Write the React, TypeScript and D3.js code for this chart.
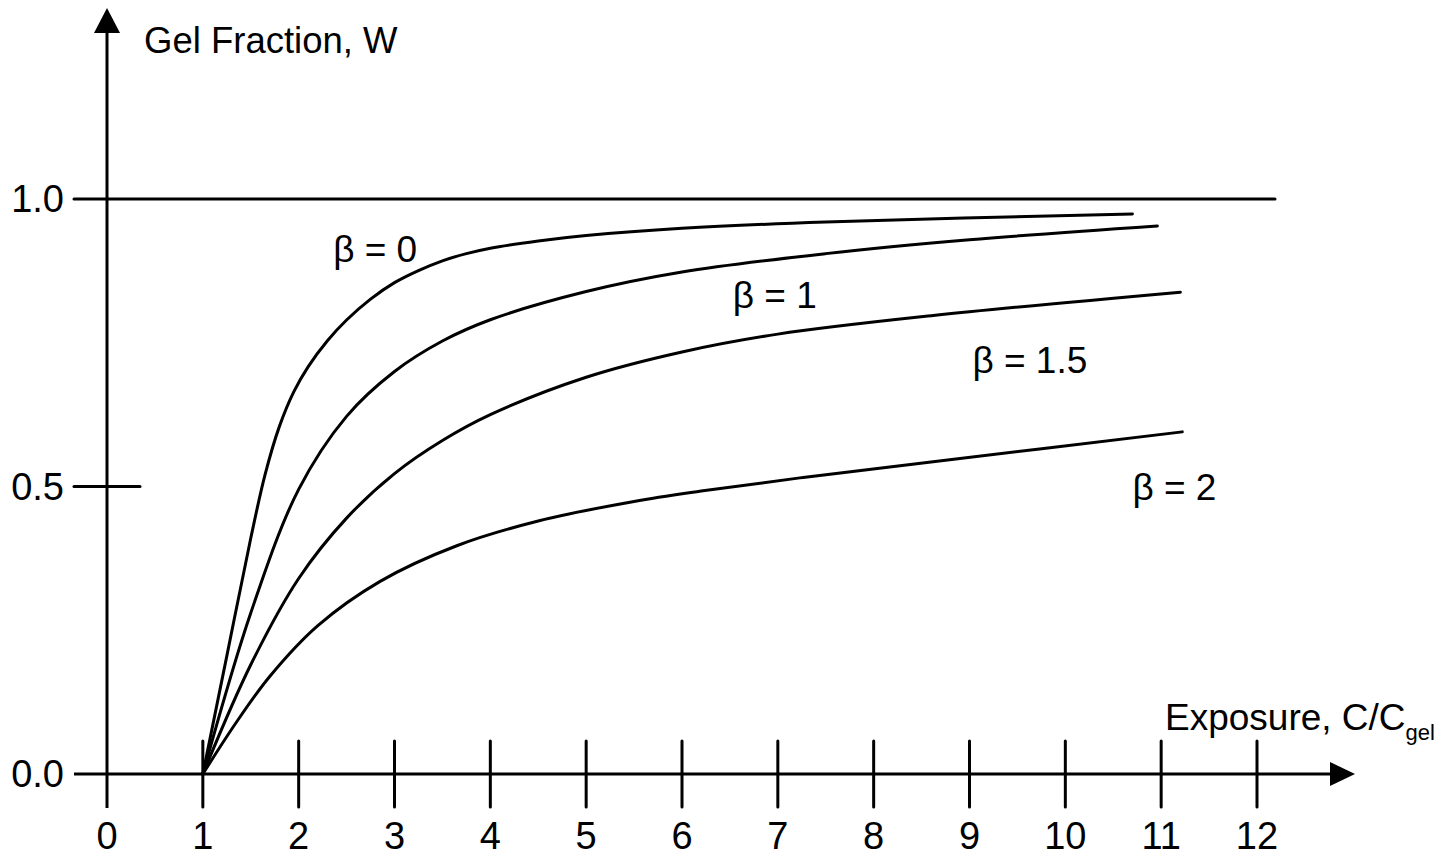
import React from "react";
import * as d3 from "d3";

// ---- Data ----
const xTicks = [0, 1, 2, 3, 4, 5, 6, 7, 8, 9, 10, 11, 12];
const yTickLabels = ["0.0", "0.5", "1.0"];
const yTickValues = [0, 0.5, 1.0];

const beta0X = [1, 1.25, 1.5, 1.65, 1.8, 1.95, 2.1, 2.3, 2.5, 2.75, 3.0, 3.25, 3.5, 3.75, 4.0, 4.5, 5.0, 6.0, 7.5, 10.7];
const beta0W = [0, 0.205, 0.41, 0.521, 0.605, 0.665, 0.7085, 0.7535, 0.7895, 0.8258, 0.8545, 0.8755, 0.8925, 0.905, 0.9145, 0.927, 0.9365, 0.949, 0.96, 0.974];

const beta1X = [1, 1.5, 2.0, 2.5, 3.0, 3.5, 4.0, 5.0, 6.0, 7.5, 9.0, 10.96];
const beta1W = [0, 0.28, 0.495, 0.622, 0.7, 0.753, 0.79, 0.839, 0.873, 0.905, 0.929, 0.953];

const beta15X = [1, 1.5, 2.0, 2.5, 3.0, 3.5, 4.0, 5.0, 6.0, 7.0, 8.6, 11.2];
const beta15W = [0, 0.19, 0.34, 0.445, 0.5225, 0.58, 0.625, 0.69, 0.734, 0.765, 0.797, 0.838];

const beta2X = [1, 1.35, 1.7, 2.2, 2.85, 3.65, 4.5, 5.5, 6.2, 7.23, 8.62, 11.22];
const beta2W = [0, 0.09, 0.17, 0.258, 0.335, 0.397, 0.44, 0.474, 0.492, 0.515, 0.543, 0.595];

const seriesLabels = ["β = 0", "β = 1", "β = 1.5", "β = 2"];
const labelAnchorX = [2.36, 6.53, 9.03, 10.7];
const labelAnchorW = [0.89, 0.81, 0.697, 0.477];

const xTitle = "Exposure, C/C";
const xTitleSub = "gel";
const yTitle = "Gel Fraction, W";

const W = 1450;
const H = 858;
const FONT = "'Liberation Sans', Arial, Helvetica, sans-serif";

export default function App() {
  const x = d3.scaleLinear().domain([0, 12]).range([107, 1257]);
  const y = d3.scaleLinear().domain([0, 1]).range([774, 199]);

  const line = d3
    .line<[number, number]>()
    .x((d) => x(d[0]))
    .y((d) => y(d[1]))
    .curve(d3.curveCatmullRom.alpha(0.5));

  const series = [
    d3.zip(beta0X, beta0W) as [number, number][],
    d3.zip(beta1X, beta1W) as [number, number][],
    d3.zip(beta15X, beta15W) as [number, number][],
    d3.zip(beta2X, beta2W) as [number, number][],
  ];

  const x0 = x(0);
  const y0 = y(0);
  const tickHalf = 33;
  const sw = 3;

  return (
    <svg
      width={W}
      height={H}
      viewBox={`0 0 ${W} ${H}`}
      style={{ position: "absolute", left: 0, top: 0, display: "block", background: "#fff" }}
      fontFamily={FONT}
    >
      <rect x={0} y={0} width={W} height={H} fill="#fff" />

      {/* curves */}
      {series.map((s, i) => (
        <path key={i} d={line(s) || ""} fill="none" stroke="#000" strokeWidth={sw} strokeLinecap="round" strokeLinejoin="round" />
      ))}

      {/* y axis */}
      <line x1={x0} y1={y0 + tickHalf + 1} x2={x0} y2={30} stroke="#000" strokeWidth={sw} />
      <path d={`M${x0},8 L${x0 + 13},33 L${x0 - 13},33 Z`} fill="#000" />

      {/* x axis */}
      <line x1={x0 - tickHalf} y1={y0} x2={1335} y2={y0} stroke="#000" strokeWidth={sw} />
      <path d={`M1355,${y0} L1330,${y0 - 12} L1330,${y0 + 12} Z`} fill="#000" />

      {/* y ticks */}
      {yTickValues.map((v, i) =>
        v === 0 ? null : (
          <line
            key={"yt" + i}
            x1={x0 - tickHalf}
            y1={y(v)}
            x2={v === 1 ? 1275 : x0 + tickHalf}
            y2={y(v)}
            stroke="#000"
            strokeWidth={sw}
            strokeLinecap="round"
          />
        )
      )}
      {yTickValues.map((v, i) => (
        <text key={"yl" + i} x={64} y={y(v) + 13} fontSize={38} textAnchor="end" fill="#000">
          {yTickLabels[i]}
        </text>
      ))}

      {/* x ticks */}
      {xTicks.map((t) =>
        t === 0 ? null : (
          <line key={"xt" + t} x1={x(t)} y1={y0 - tickHalf} x2={x(t)} y2={y0 + tickHalf} stroke="#000" strokeWidth={sw} strokeLinecap="round" />
        )
      )}
      {xTicks.map((t) => (
        <text key={"xl" + t} x={x(t)} y={849} fontSize={38} textAnchor="middle" fill="#000">
          {t}
        </text>
      ))}

      {/* titles */}
      <text x={144} y={53} fontSize={36.5} fill="#000">
        {yTitle}
      </text>
      <text x={1165} y={730} fontSize={37} fill="#000">
        {xTitle}
        <tspan fontSize={22} dy={10}>
          {xTitleSub}
        </tspan>
      </text>

      {/* series labels */}
      {seriesLabels.map((l, i) => (
        <text key={"sl" + i} x={x(labelAnchorX[i])} y={y(labelAnchorW[i])} fontSize={37} fill="#000">
          {l}
        </text>
      ))}
    </svg>
  );
}
